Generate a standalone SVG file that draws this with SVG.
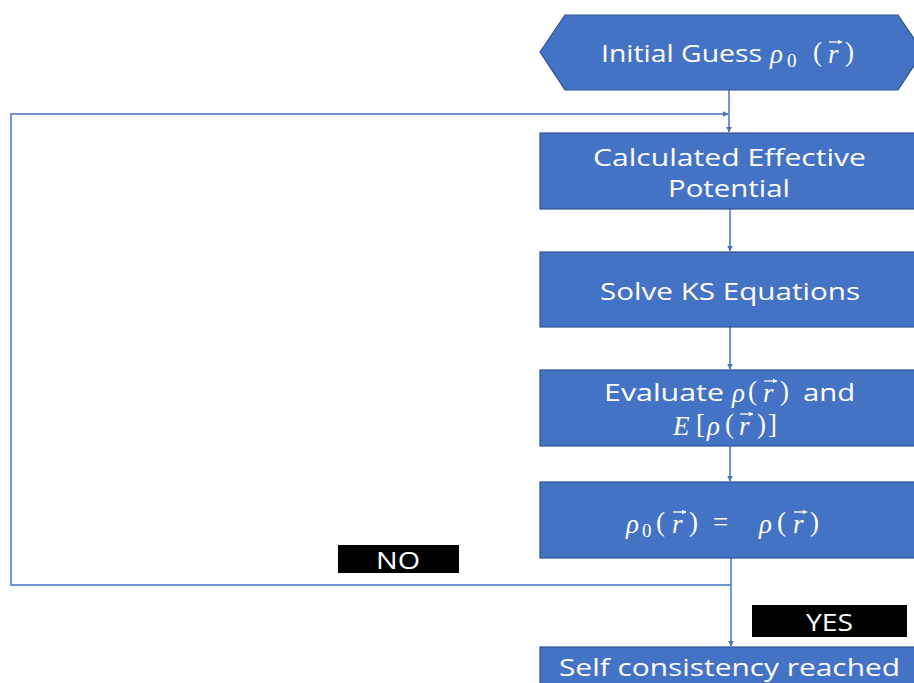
<svg xmlns="http://www.w3.org/2000/svg" width="914" height="683" viewBox="0 0 914 683">
<defs>
<marker id="ah" viewBox="0 0 10 10" refX="9" refY="5" markerWidth="6" markerHeight="6" orient="auto" markerUnits="userSpaceOnUse">
<path d="M0,0 L10,5 L0,10 z" fill="#4472C4"/>
</marker>
<marker id="va" viewBox="0 0 10 10" refX="9" refY="5" markerWidth="5" markerHeight="5" orient="auto" markerUnits="userSpaceOnUse">
<path d="M0,0 L10,5 L0,10 z" fill="#fff"/>
</marker>
<style>
.n{fill:#4472C4;stroke:#2F528F;stroke-width:1.2}
.t{fill:#fff;font-family:"Open Sans","Noto Sans",sans-serif;font-size:24px;dominant-baseline:central}
.mi{font-family:"Liberation Serif","DejaVu Serif",serif;font-style:italic;font-size:27px}
.mn{font-family:"Liberation Serif","DejaVu Serif",serif;font-style:normal;font-size:27px}
.sub{font-family:"Liberation Serif","DejaVu Serif",serif;font-style:normal;font-size:19px}
.vec{fill:none;stroke:#fff;stroke-width:1.3}
.c{fill:none;stroke:#4472C4;stroke-width:1.5}
.lb{fill:#000}
.lt{fill:#fff;font-family:"Open Sans","Noto Sans",sans-serif;font-size:24px;dominant-baseline:central}
</style>
</defs>
<rect width="914" height="683" fill="#fff"/>
<g id="connectors">
<line class="c" x1="729" y1="90" x2="729" y2="132" marker-end="url(#ah)"/>
<line class="c" x1="730" y1="209" x2="730" y2="251" marker-end="url(#ah)"/>
<line class="c" x1="730" y1="327" x2="730" y2="369" marker-end="url(#ah)"/>
<line class="c" x1="730" y1="446" x2="730" y2="481" marker-end="url(#ah)"/>
<line class="c" x1="731" y1="558" x2="731" y2="646" marker-end="url(#ah)"/>
<polyline class="c" points="731,585 11,585 11,114 728,114" marker-end="url(#ah)"/>
</g>
<g id="n0">
<polygon class="n" points="540,52 565,15 898,15 923,52 898,90 565,90"/>
<text class="t" x="601" y="52"><tspan textLength="161" lengthAdjust="spacingAndGlyphs">Initial Guess</tspan><tspan class="mi" x="770" y="54">ρ</tspan><tspan class="sub" x="787" y="60">0</tspan><tspan class="mn" x="813" y="52">(</tspan><tspan class="mi" x="828" y="54">r</tspan><tspan class="mn" x="845" y="52">)</tspan></text>
<line class="vec" x1="829" y1="42" x2="842" y2="42" marker-end="url(#va)"/>
</g>
<g id="n1">
<rect class="n" x="540" y="133" width="385" height="76"/>
<text class="t" x="593" y="156" textLength="273" lengthAdjust="spacingAndGlyphs">Calculated Effective</text>
<text class="t" x="668" y="187" textLength="122" lengthAdjust="spacingAndGlyphs">Potential</text>
</g>
<g id="n2">
<rect class="n" x="540" y="252" width="385" height="75"/>
<text class="t" x="600" y="290" textLength="260" lengthAdjust="spacingAndGlyphs">Solve KS Equations</text>
</g>
<g id="n3">
<rect class="n" x="540" y="370" width="385" height="76"/>
<text class="t" x="604" y="391"><tspan textLength="120" lengthAdjust="spacingAndGlyphs">Evaluate</tspan><tspan class="mi" x="732" y="393">ρ</tspan><tspan class="mn" x="748" y="391">(</tspan><tspan class="mi" x="763" y="393">r</tspan><tspan class="mn" x="780" y="391">)</tspan><tspan x="803" y="391" textLength="52" lengthAdjust="spacingAndGlyphs">and</tspan></text>
<line class="vec" x1="764" y1="381" x2="777" y2="381" marker-end="url(#va)"/>
<text class="t" x="673" y="426"><tspan class="mi">E</tspan><tspan class="mn" x="696" y="424">[</tspan><tspan class="mi" x="707" y="426">ρ</tspan><tspan class="mn" x="725" y="424">(</tspan><tspan class="mi" x="739" y="426">r</tspan><tspan class="mn" x="757" y="424">)</tspan><tspan class="mn" x="768" y="424">]</tspan></text>
<line class="vec" x1="740" y1="414" x2="753" y2="414" marker-end="url(#va)"/>
</g>
<g id="n4">
<rect class="n" x="540" y="482" width="385" height="76"/>
<text class="t" x="626" y="524"><tspan class="mi">ρ</tspan><tspan class="sub" x="642" y="530">0</tspan><tspan class="mn" x="656" y="522">(</tspan><tspan class="mi" x="672" y="524">r</tspan><tspan class="mn" x="689" y="522">)</tspan><tspan class="mn" x="713" y="522">=</tspan><tspan class="mi" x="759" y="524">ρ</tspan><tspan class="mn" x="777" y="522">(</tspan><tspan class="mi" x="793" y="524">r</tspan><tspan class="mn" x="810" y="522">)</tspan></text>
<line class="vec" x1="673" y1="512" x2="686" y2="512" marker-end="url(#va)"/>
<line class="vec" x1="794" y1="512" x2="807" y2="512" marker-end="url(#va)"/>
</g>
<g id="n5">
<rect class="n" x="540" y="647" width="385" height="60"/>
<text class="t" x="559" y="666" textLength="341" lengthAdjust="spacingAndGlyphs">Self consistency reached</text>
</g>
<g id="lblNo">
<rect class="lb" x="338" y="545" width="121" height="28"/>
<text class="lt" x="376" y="559" textLength="44" lengthAdjust="spacingAndGlyphs">NO</text>
</g>
<g id="lblYes">
<rect class="lb" x="752" y="605" width="155" height="32"/>
<text class="lt" x="806" y="621" textLength="47" lengthAdjust="spacingAndGlyphs">YES</text>
</g>
</svg>
